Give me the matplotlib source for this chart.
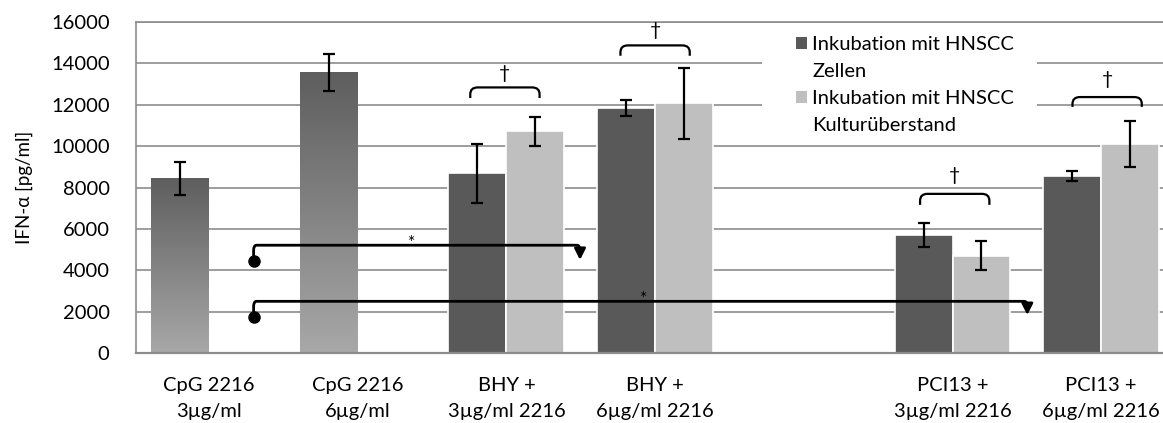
import numpy as np
import matplotlib
matplotlib.use('Agg')
import matplotlib.pyplot as plt
from matplotlib.patches import Rectangle, Patch, PathPatch
from matplotlib.path import Path
from matplotlib.colors import LinearSegmentedColormap

plt.rcParams['font.family'] = ['Lato', 'DejaVu Sans']

# ---------------- data ----------------
categories = ['CpG 2216\n3µg/ml', 'CpG 2216\n6µg/ml', 'BHY +\n3µg/ml 2216',
              'BHY +\n6µg/ml 2216', '', 'PCI13 +\n3µg/ml 2216', 'PCI13 +\n6µg/ml 2216']

cpg_idx = [0, 1]
cpg_vals = [8450, 13570]
cpg_err = [800, 890]

pair_idx = [2, 3, 5, 6]
cells_vals = [8700, 11840, 5700, 8560]      # Inkubation mit HNSCC Zellen
cells_err = [1430, 370, 580, 240]
sup_vals = [10720, 12080, 4700, 10100]      # Inkubation mit HNSCC Kulturüberstand
sup_err = [710, 1720, 700, 1110]

legend_labels = ['Inkubation mit HNSCC', 'Zellen', 'Inkubation mit HNSCC', 'Kulturüberstand']
ylabel = 'IFN-α [pg/ml]'

# significance brackets (†)
bracket_x = [1.99, 3.0, 5.015, 6.04]
bracket_top = [12840, 14870, 7700, 12375]
bracket_leg = [12330, 14370, 7170, 11900]
dagger_y = [13500, 15580, 8570, 13210]

# significance arrows (*)
arrow_start_x = [0.30, 0.30]
dot_y = [4450, 1740]
line_y = [5220, 2510]
arrow_end_x = [2.495, 5.503]
tip_y = [4510, 1850]
star_x = [1.36, 2.92]
star_y = [5330, 2600]

# ---------------- styling ----------------
DARK = '#595959'
LIGHT = '#bfbfbf'
GRID = '#8c8c8c'
W = 0.39
FS = 14.5

fig = plt.figure(figsize=(11.63, 4.23), dpi=100)
L, R, T, B = 136, 1163, 22, 353.3
ax = fig.add_axes([L / 1163, (423 - B) / 423, (R - L) / 1163, (B - T) / 423])

x_pair = np.array(pair_idx, dtype=float)
ax.bar(x_pair, cells_vals, width=-W, align='edge', color=DARK,
       edgecolor='white', linewidth=1.2, zorder=2)
ax.bar(x_pair, sup_vals, width=W, align='edge', color=LIGHT,
       edgecolor='white', linewidth=1.2, zorder=2)

# gradient CpG bars
cmap = LinearSegmentedColormap.from_list('g', ['#a8a8a8', '#5e5e5e'])
grad = np.linspace(0, 1, 256).reshape(-1, 1)
x_cpg = np.array(cpg_idx, dtype=float)
bars = ax.bar(x_cpg, cpg_vals, width=-W, align='edge', color='none',
              edgecolor='none', zorder=2)
for b in bars:
    x0 = b.get_x()
    w = b.get_width()
    h = b.get_height()
    im = ax.imshow(grad, extent=[x0, x0 + w, 0, h], origin='lower', cmap=cmap,
                   aspect='auto', zorder=2, interpolation='bilinear')
    im.set_clip_path(b)

ek = dict(fmt='none', ecolor='black', elinewidth=1.6, capsize=4, capthick=1.6, zorder=4)
ax.errorbar(x_cpg - W / 2, cpg_vals, yerr=cpg_err, **ek)
ax.errorbar(x_pair - W / 2, cells_vals, yerr=cells_err, **ek)
ax.errorbar(x_pair + W / 2, sup_vals, yerr=sup_err, **ek)

# brackets
hw = 0.233
rx, ry = 0.05, 330
for cx, yt, yl, yd in zip(bracket_x, bracket_top, bracket_leg, dagger_y):
    x0, x1 = cx - hw, cx + hw
    verts = [(x0, yl), (x0, yt - ry), (x0, yt), (x0 + rx, yt), (x1 - rx, yt),
             (x1, yt), (x1, yt - ry), (x1, yl)]
    codes = [Path.MOVETO, Path.LINETO, Path.CURVE3, Path.CURVE3, Path.LINETO,
             Path.CURVE3, Path.CURVE3, Path.LINETO]
    ax.add_patch(PathPatch(Path(verts, codes), fill=False, lw=1.6, ec='black', zorder=5))
    ax.text(cx, yd, '†', ha='center', va='center', fontsize=14, zorder=5)

# arrows
rx2, ry2 = 0.02, 250
for xs, yd, yl, xe, yt, sx, sy in zip(arrow_start_x, dot_y, line_y, arrow_end_x,
                                      tip_y, star_x, star_y):
    head = 480
    verts = [(xs, yd), (xs, yl - ry2), (xs, yl), (xs + rx2, yl), (xe - rx2, yl),
             (xe, yl), (xe, yl - ry2), (xe, yt + head)]
    codes = [Path.MOVETO, Path.LINETO, Path.CURVE3, Path.CURVE3, Path.LINETO,
             Path.CURVE3, Path.CURVE3, Path.LINETO]
    ax.add_patch(PathPatch(Path(verts, codes), fill=False, lw=2, ec='black',
                           zorder=6, capstyle='butt'))
    ax.plot([xs], [yd], 'o', color='black', ms=8, zorder=6)
    ax.annotate('', xy=(xe, yt), xytext=(xe, yt + head + 50),
                arrowprops=dict(arrowstyle='-|>,head_length=0.65,head_width=0.33',
                                color='black', lw=2, shrinkA=0, shrinkB=0),
                zorder=6)
    ax.text(sx, sy, '*', ha='center', va='center', fontsize=12.5, zorder=6)

# axes styling
ax.set_ylim(0, 16000)
ax.set_yticks(np.arange(0, 16001, 2000))
ax.set_xlim(-(209 - L) / 148.7, (R - 209) / 148.7)
ax.set_xticks(range(len(categories)))
ax.set_xticklabels(categories, fontsize=FS, linespacing=1.62)
ax.tick_params(axis='x', length=0, pad=17)
ax.tick_params(axis='y', length=0, pad=19, labelsize=FS)
ax.yaxis.grid(True, color=GRID, lw=1.2)
ax.set_axisbelow(True)
ax.spines['right'].set_visible(False)
ax.spines['top'].set_color(GRID)
ax.spines['top'].set_linewidth(1.2)
ax.spines['left'].set_color(GRID)
ax.spines['left'].set_linewidth(1.2)
ax.spines['bottom'].set_color(GRID)
ax.spines['bottom'].set_linewidth(1.6)
ax.set_ylabel(ylabel, fontsize=13.5)
ax.yaxis.set_label_coords(-(136 - 33) / (R - L), 0.5)

# legend background (covers gridlines)
ax.add_patch(Rectangle(((762 - L) / (R - L), (B - 145) / (B - T)),
                       (1037 - 762) / (R - L), (145 - 24) / (B - T),
                       transform=ax.transAxes, facecolor='white', edgecolor='none',
                       zorder=1))
handles = [Patch(facecolor=DARK), Patch(facecolor='none', edgecolor='none'),
           Patch(facecolor=LIGHT), Patch(facecolor='none', edgecolor='none')]
ax.legend(handles, legend_labels, loc='upper left',
          bbox_to_anchor=((796 - L) / (R - L), (B - 36) / (B - T)),
          frameon=False, fontsize=FS, borderpad=0, borderaxespad=0,
          handlelength=0.55, handleheight=0.55, handletextpad=0.25,
          labelspacing=0.5)

fig.savefig('out.png', dpi=100)
